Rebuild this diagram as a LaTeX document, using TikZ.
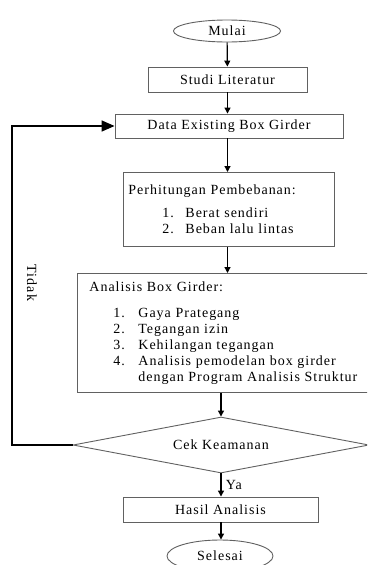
\documentclass[tikz,border=0pt]{standalone}
\usepackage{fontspec}
\setmainfont{Liberation Serif}[LetterSpace=7]
\usepackage{xcolor}
\usepackage{tikz}
\usetikzlibrary{shapes.geometric, arrows.meta, positioning}
\definecolor{myline}{rgb}{0.38, 0.38, 0.38}
\tikzstyle{startstop} = [ellipse, draw=myline, line width=0.9pt, minimum width=107pt, minimum height=22pt, inner sep=0pt, font=\fontsize{14}{16}\selectfont]
\tikzstyle{process} = [rectangle, draw=myline, line width=0.9pt, inner sep=0pt, font=\fontsize{14}{16}\selectfont]
\tikzstyle{listbox} = [rectangle, draw=myline, line width=0.9pt, align=left, anchor=north west, font=\fontsize{14}{16}\selectfont]
\tikzstyle{decision} = [diamond, aspect=5.3, draw=myline, line width=0.9pt, minimum width=296pt, minimum height=56pt, inner sep=0pt, font=\fontsize{14}{16}\selectfont]
\tikzstyle{arrow} = [line width=1.2pt, -{Triangle[length=6pt,width=6pt]}]

\begin{document}
\begin{tikzpicture}[x=1pt,y=-1pt]
\clip (0,0) rectangle (367,565);
\fill[white] (0,0) rectangle (367,565);

\node[startstop] (mulai) at (227,31) {Mulai};
\node[process, minimum width=159pt, minimum height=25pt] (studi) at (227.5,79.5) {Studi Literatur};
\node[process, minimum width=228pt, minimum height=24pt] (data) at (229,126) {Data Existing Box Girder};

\node[listbox,
inner xsep=5pt,
text width=201pt,
minimum height=74pt
] (beban) at (123,172) {
Perhitungan Pembebanan:\\[7pt]
\hspace*{34pt}\makebox[23pt][l]{1.}Berat sendiri\\
\hspace*{34pt}\makebox[23pt][l]{2.}Beban lalu lintas
};

\node[listbox,
inner xsep=12pt,
text width=290pt,
minimum height=119pt
] (analisis) at (77,273) {
Analisis Box Girder:\\[10pt]
\hspace*{24pt}\makebox[25pt][l]{1.}Gaya Prategang\\
\hspace*{24pt}\makebox[25pt][l]{2.}Tegangan izin\\
\hspace*{24pt}\makebox[25pt][l]{3.}Kehilangan tegangan\\
\hspace*{24pt}\makebox[25pt][l]{4.}Analisis pemodelan box girder\\
\hspace*{49pt}dengan Program Analisis Struktur
};

\node[decision] (cek) at (221,445) {Cek Keamanan};
\node[process, minimum width=195pt, minimum height=25pt] (hasil) at (220.5,509.5) {Hasil Analisis};
\node[startstop, minimum width=106pt, minimum height=32pt] (selesai) at (220,556) {Selesai};

% main flow
\draw[arrow] (mulai) -- (studi);
\draw[arrow] (studi) -- (studi.south |- data.north);
\draw[arrow] (data.south -| studi.south) -- (studi.south |- beban.north);
\draw[arrow] (studi.south |- beban.south) -- (studi.south |- analisis.north);
\draw[arrow] (cek.north |- analisis.south) -- (cek.north);
\draw[arrow] (cek.south) -- node[right, font=\fontsize{14}{16}\selectfont, xshift=1pt] {Ya} (cek.south |- hasil.north);
\draw[arrow] (hasil.south -| cek.south) -- (selesai.north -| cek.south);

% loop back
\coordinate (loop) at (12,445);
\draw[line width=1.5pt, -{Triangle[length=13pt,width=11pt]}]
(cek.west) -- (loop) |- (data.west);
\node[rotate=-90, font=\fontsize{14}{16}\selectfont] (tidak) at (32,283) {Tidak};
\end{tikzpicture}
\end{document}
